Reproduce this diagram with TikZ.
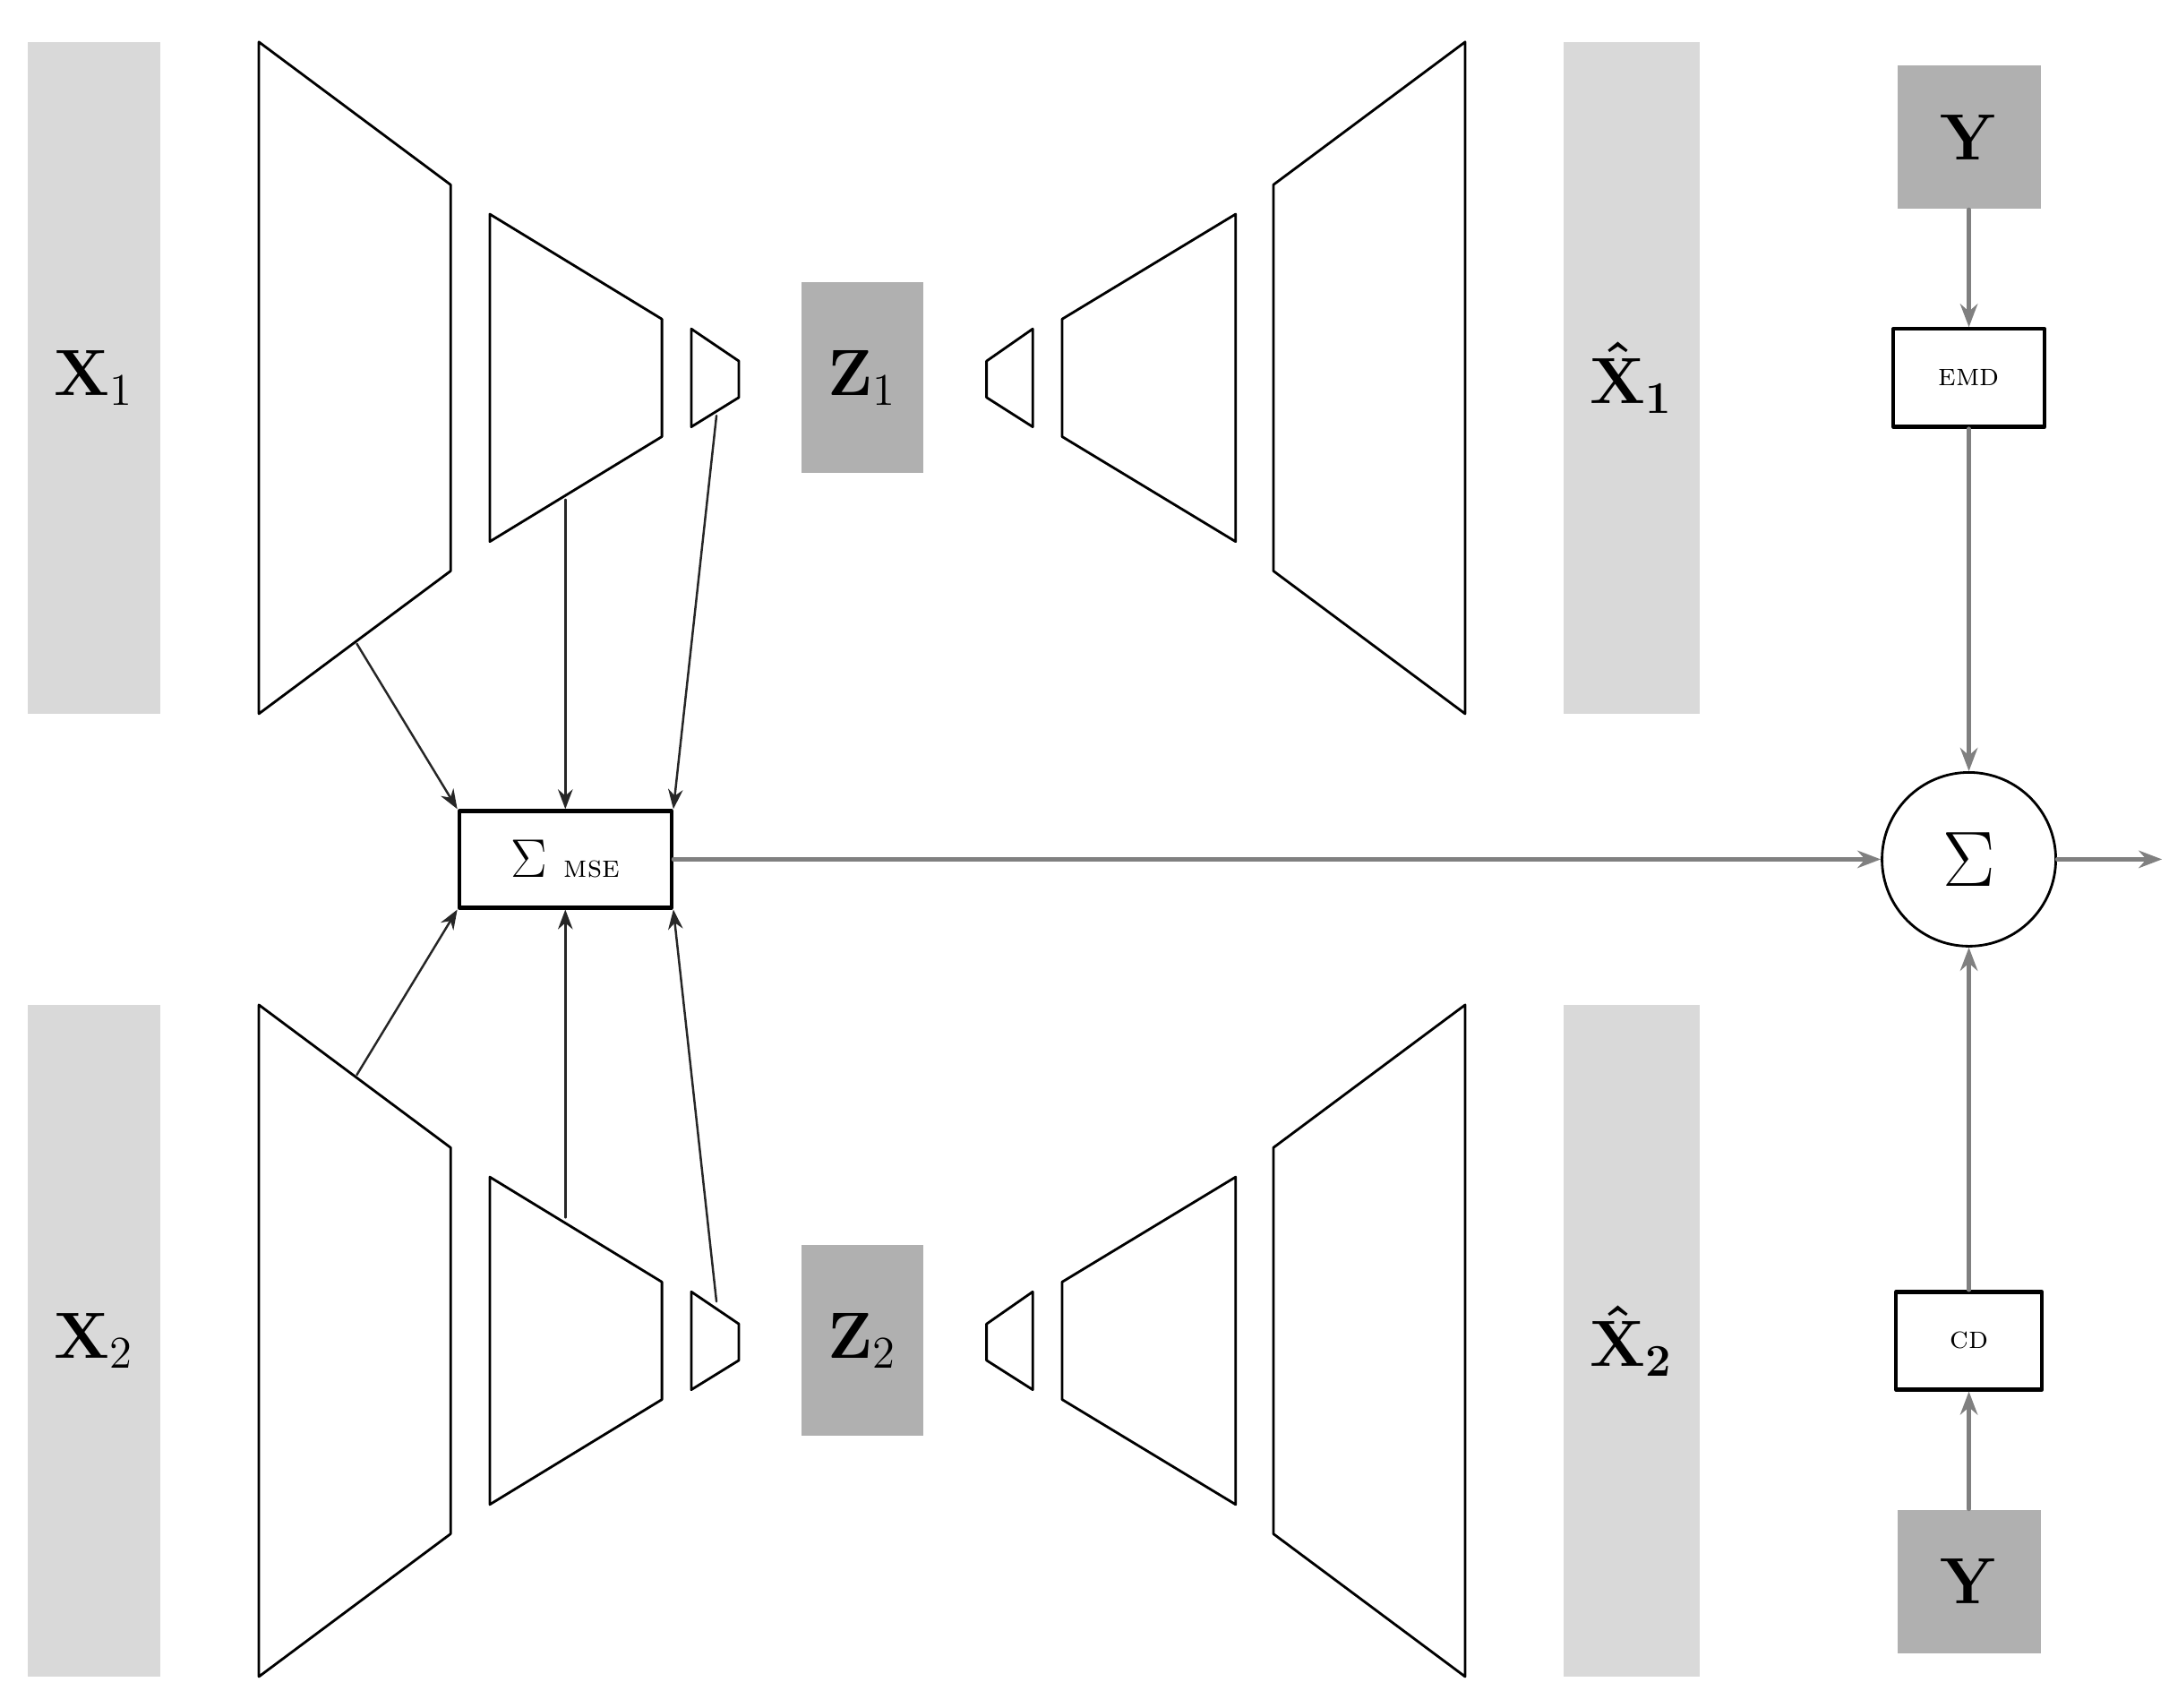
\documentclass[tikz,border=0pt]{standalone}
\usepackage[svgnames]{xcolor}
\usepackage{amsmath}
\usepackage{tikz}
\usetikzlibrary{arrows.meta}
\definecolor{barlight}{HTML}{D9D9D9}
\definecolor{bardark}{HTML}{B0B0B0}
\definecolor{linegray}{HTML}{808080}
\tikzset{
    bar/.style={fill=barlight, draw=none, inner sep=0pt, font=\huge},
    code/.style={fill=bardark, draw=none, inner sep=0pt, font=\huge},
    loss/.style={draw=black, line width=1.2pt, fill=white, inner sep=0pt, font=\normalsize},
    trap/.style={draw=black, line width=0.8pt},
    msearrow/.style={-{Stealth[length=2.2mm]}, line width=0.7pt, draw=black!85},
    sumarrow/.style={-{Stealth[length=2.6mm]}, line width=1.2pt, draw=linegray}
}

\begin{document}
\begin{tikzpicture}[
    x=0.015626cm, y=-0.015626cm,
    line cap=round,
    line join=round
]
\useasboundingbox (0,0) rectangle (1550,1220);

\def\dy{688}

% inputs and reconstructions
\node[bar, minimum width=1.48cm, minimum height=7.5cm] (x1) at (67,270) {$\mathbf{X}_1$};
\node[bar, minimum width=1.48cm, minimum height=7.5cm] (x2) at (67,958) {$\mathbf{X}_2$};
\node[bar, minimum width=1.52cm, minimum height=7.5cm] (xh1) at (1166,270) {$\boldsymbol{\hat{\mathrm{X}}_{1}}$};
\node[bar, minimum width=1.52cm, minimum height=7.5cm] (xh2) at (1166,958) {$\boldsymbol{\hat{\mathrm{X}}_{2}}$};

% latent codes
\node[code, minimum width=1.36cm, minimum height=2.13cm] (z1) at (616,270) {$\mathbf{Z}_1$};
\node[code, minimum width=1.36cm, minimum height=2.13cm] (z2) at (616,958) {$\mathbf{Z}_2$};

% encoders and decoders
\foreach \s in {0,1}{
    \begin{scope}[yshift=\s*\dy*-0.015626cm]
        \draw[trap] (185,30) -- (322,132) -- (322,408) -- (185,510) -- cycle;
        \draw[trap] (350,153) -- (473,228) -- (473,312) -- (350,387) -- cycle;
        \draw[trap] (494,235) -- (528,258) -- (528,284) -- (494,305) -- cycle;
        \draw[trap] (738,235) -- (705,258) -- (705,284) -- (738,305) -- cycle;
        \draw[trap] (883,153) -- (759,228) -- (759,312) -- (883,387) -- cycle;
        \draw[trap] (1047,30) -- (910,132) -- (910,408) -- (1047,510) -- cycle;
    \end{scope}
}

% tap points
\coordinate (e1a) at (255,460);
\coordinate (e1b) at (404,357);
\coordinate (e1c) at (512,297);
\coordinate (e2a) at (255,768);
\coordinate (e2b) at (404,870);
\coordinate (e2c) at (512,930);

% losses
\node[loss, minimum width=2.37cm, minimum height=1.08cm] (mse) at (404,614) {\LARGE$\Sigma$\ \normalsize\textsc{mse}};
\node[fill=bardark, minimum width=1.6cm, minimum height=1.6cm, inner sep=0pt, font=\huge] (y1) at (1407,98) {$\mathbf{Y}$};
\node[fill=bardark, minimum width=1.6cm, minimum height=1.6cm, inner sep=0pt, font=\huge] (y2) at (1407,1130) {$\mathbf{Y}$};
\node[loss, minimum width=1.69cm, minimum height=1.09cm] (emd) at (1407,270) {\textsc{emd}};
\node[loss, minimum width=1.63cm, minimum height=1.09cm] (cd) at (1407,958) {\textsc{cd}};
\node[circle, draw=black, line width=0.8pt, minimum size=1.94cm, inner sep=0pt, font=\Huge] (sum) at (1407,614) {$\Sigma$};
\coordinate (out) at (1545,614);

\draw[msearrow] (e1a) -- (mse.north west);
\draw[msearrow] (e1b) -- (mse.north);
\draw[msearrow] (e1c) -- (mse.north east);
\draw[msearrow] (e2a) -- (mse.south west);
\draw[msearrow] (e2b) -- (mse.south);
\draw[msearrow] (e2c) -- (mse.south east);

\draw[sumarrow] (mse) -- (sum);
\draw[sumarrow] (y1) -- (emd);
\draw[sumarrow] (emd) -- (sum);
\draw[sumarrow] (y2) -- (cd);
\draw[sumarrow] (cd) -- (sum);
\draw[sumarrow] (sum) -- (out);

\end{tikzpicture}
\end{document}
